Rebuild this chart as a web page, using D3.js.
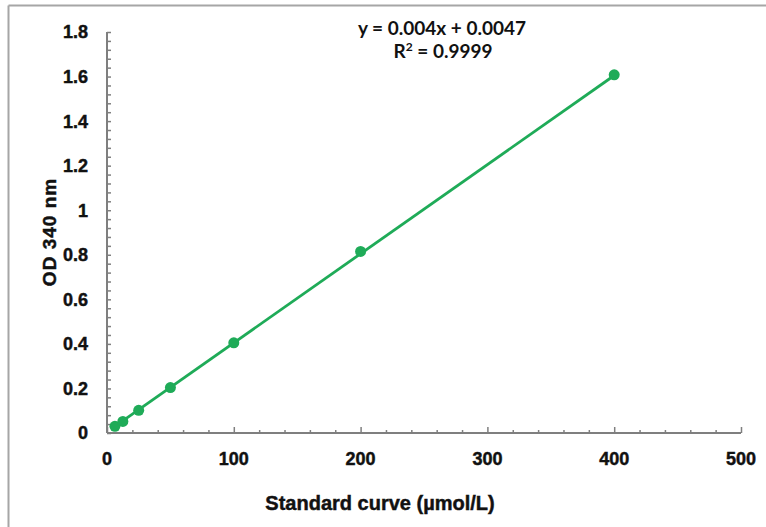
<!DOCTYPE html>
<html lang="en">
<head>
<meta charset="UTF-8">
<title>Standard curve</title>
<script src="https://d3js.org/d3.v7.min.js"></script>
<style>
  body { margin: 0; background: #fff; }
  .lbl { font-family: "Liberation Sans", Arial, sans-serif; font-weight: bold; fill: #111; stroke: #111; stroke-width: 0.45; }
  .axis path, .axis line { stroke: #7f7f7f; }
</style>
</head>
<body>
<svg id="chart" width="766" height="527"></svg>
<script>
// standard concentrations (umol/L) and measured OD 340 nm
const conc = [6.25, 12.5, 25, 50, 100, 200, 400];
const od = [0.03, 0.052, 0.102, 0.204, 0.405, 0.815, 1.608];
const xTicks = [0, 100, 200, 300, 400, 500];
const yTicks = [0, 0.2, 0.4, 0.6, 0.8, 1, 1.2, 1.4, 1.6, 1.8];
const slope = 0.004, intercept = 0.0047;
const eqText = "y = 0.004x + 0.0047";
const r2Text = "0.9999";

const svg = d3.select("#chart");
const green = "#1fab58";

// outer frame (only top and left edges are visible)
svg.append("line").attr("x1", 8.5).attr("x2", 766).attr("y1", 5.5).attr("y2", 5.5)
  .attr("stroke", "#a6a6a6").attr("stroke-width", 2);
svg.append("line").attr("x1", 8.5).attr("x2", 8.5).attr("y1", 5.5).attr("y2", 527)
  .attr("stroke", "#a6a6a6").attr("stroke-width", 2);

const x = d3.scaleLinear().domain([0, 500]).range([107, 741]);
const y = d3.scaleLinear().domain([0, 1.8]).range([433, 32]);

// x axis with minor ticks every 20
const gx = svg.append("g").attr("class", "axis").attr("transform", `translate(0,${y(0)})`);
gx.call(d3.axisTop(x).tickValues(d3.range(0, 501, 20)).tickSize(3).tickFormat(""));
gx.call(g => g.selectAll(".tick").filter(d => d % 100 === 0).select("line").attr("y2", -6));
gx.select(".domain").attr("stroke-width", 2).attr("d", `M${x(0)},0H${x(500)}`);
gx.selectAll(".tick line").attr("stroke-width", 1.5);

svg.append("g").selectAll("text").data(xTicks).join("text")
  .attr("class", "lbl").attr("x", d => x(d)).attr("y", 465).attr("text-anchor", "middle")
  .attr("font-size", 18).text(d => d);

// y axis with minor ticks every 0.04
const gy = svg.append("g").attr("class", "axis").attr("transform", `translate(${x(0)},0)`);
gy.call(d3.axisRight(y).tickValues(d3.range(0, 46).map(i => i * 0.04)).tickSize(4).tickFormat(""));
gy.select(".domain").attr("stroke-width", 2).attr("d", `M0,${y(0)}V${y(1.8)}`);
gy.selectAll(".tick line").attr("stroke-width", 1.5);

svg.append("g").selectAll("text").data(yTicks).join("text")
  .attr("class", "lbl").attr("x", 88).attr("y", d => y(d)).attr("dy", "0.36em")
  .attr("text-anchor", "end").attr("font-size", 18).text(d => d);

// trend line
const xs = d3.extent(conc);
svg.append("line")
  .attr("x1", x(xs[0])).attr("y1", y(slope * xs[0] + intercept))
  .attr("x2", x(xs[1])).attr("y2", y(slope * xs[1] + intercept))
  .attr("stroke", green).attr("stroke-width", 2.8);

svg.append("g").selectAll("circle").data(conc).join("circle")
  .attr("cx", d => x(d)).attr("cy", (d, i) => y(od[i])).attr("r", 5.5).attr("fill", green);

// equation
const eq = svg.append("g").attr("font-family", "Lato, 'Open Sans', sans-serif")
  .attr("font-weight", "bold").attr("font-size", 19).attr("text-anchor", "middle")
  .attr("fill", "#111");
eq.append("text").attr("x", 442).attr("y", 35).text(eqText);
const r = eq.append("text").attr("x", 443).attr("y", 58);
r.append("tspan").text("R");
r.append("tspan").attr("dy", -7).attr("font-size", 12).text("2");
r.append("tspan").attr("dy", 7).text(" = " + r2Text);

// axis titles
svg.append("text").attr("class", "lbl").attr("x", 380).attr("y", 510).attr("text-anchor", "middle")
  .attr("font-size", 20).text("Standard curve (µmol/L)");
svg.append("text").attr("class", "lbl").attr("transform", "translate(56,232) rotate(-90)")
  .attr("text-anchor", "middle").attr("font-size", 19).attr("letter-spacing", 1)
  .text("OD 340 nm");
</script>
</body>
</html>
